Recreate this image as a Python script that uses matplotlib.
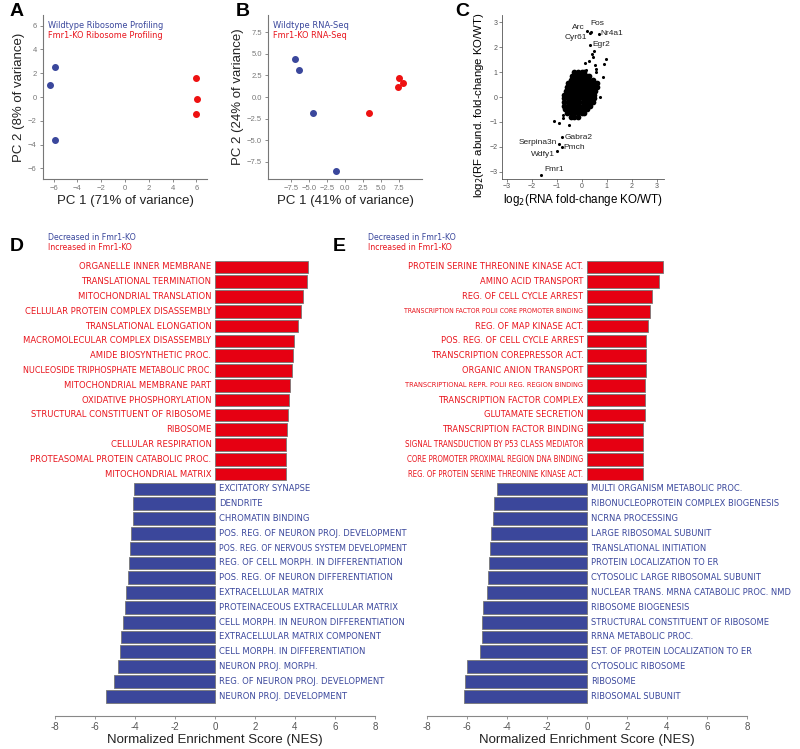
import os
import matplotlib
matplotlib.use("Agg")
import matplotlib.pyplot as plt
from matplotlib import font_manager

plt.rcParams["font.family"] = ["Liberation Sans", "DejaVu Sans"]

# a narrow face for the long term labels, if one is installed
narrow = font_manager.FontProperties(family="Roboto")
found = False
for pref in ["liberationsansnarrow-regular", "dejavusanscondensed.ttf", "robotocondensed-regular",
             "opensans_condensed-regular", "opensanscondensed-regular", "notosans-condensed.ttf"]:
    for f in font_manager.fontManager.ttflist:
        if os.path.basename(f.fname).lower().startswith(pref):
            narrow = font_manager.FontProperties(fname=f.fname)
            found = True
            break
    if found:
        break

RED = "#e8141c"
BLUE = "#3a479c"
BAR_RED = "#e60012"
BAR_BLUE = "#3b479b"

# panel A: PCA of ribosome profiling
a_wt_x = [-6.3, -5.9, -5.9]
a_wt_y = [1.0, 2.5, -3.6]
a_ko_x = [6.0, 6.1, 6.0]
a_ko_y = [1.6, -0.2, -1.4]

# panel B: PCA of RNA-Seq
b_wt_x = [-7.0, -6.4, -4.4, -1.2]
b_wt_y = [4.4, 3.1, -1.9, -8.6]
b_ko_x = [3.3, 7.5, 7.4, 8.0]
b_ko_y = [-1.9, 2.2, 1.2, 1.6]

# panel C: RF vs RNA fold change, the dense bulk of genes read as a cloud
cloud_x = [-0.3, -0.15, 0.0, 0.1,
           -0.4, -0.25, -0.1, 0.05, 0.2, 0.3,
           -0.45, -0.3, -0.15, 0.0, 0.15, 0.3, 0.45,
           -0.55, -0.4, -0.25, -0.1, 0.05, 0.2, 0.35, 0.5, 0.6,
           -0.6, -0.45, -0.3, -0.15, 0.0, 0.15, 0.3, 0.45, 0.6,
           -0.65, -0.5, -0.35, -0.2, -0.05, 0.1, 0.25, 0.4, 0.55,
           -0.7, -0.55, -0.4, -0.25, -0.1, 0.05, 0.2, 0.35, 0.5,
           -0.7, -0.55, -0.4, -0.25, -0.1, 0.05, 0.2, 0.35, 0.5,
           -0.72, -0.57, -0.42, -0.27, -0.12, 0.03, 0.18, 0.33, 0.45,
           -0.7, -0.55, -0.4, -0.25, -0.1, 0.05, 0.2, 0.35,
           -0.68, -0.53, -0.38, -0.23, -0.08, 0.07, 0.22,
           -0.6, -0.45, -0.3, -0.15, 0.0, 0.1,
           -0.45, -0.3, -0.15]
cloud_y = [1.0, 1.0, 1.0, 1.0,
           0.85, 0.85, 0.85, 0.85, 0.85, 0.85,
           0.7, 0.7, 0.7, 0.7, 0.7, 0.7, 0.7,
           0.55, 0.55, 0.55, 0.55, 0.55, 0.55, 0.55, 0.55, 0.55,
           0.4, 0.4, 0.4, 0.4, 0.4, 0.4, 0.4, 0.4, 0.4,
           0.25, 0.25, 0.25, 0.25, 0.25, 0.25, 0.25, 0.25, 0.25,
           0.1, 0.1, 0.1, 0.1, 0.1, 0.1, 0.1, 0.1, 0.1,
           -0.05, -0.05, -0.05, -0.05, -0.05, -0.05, -0.05, -0.05, -0.05,
           -0.2, -0.2, -0.2, -0.2, -0.2, -0.2, -0.2, -0.2, -0.2,
           -0.35, -0.35, -0.35, -0.35, -0.35, -0.35, -0.35, -0.35,
           -0.5, -0.5, -0.5, -0.5, -0.5, -0.5, -0.5,
           -0.65, -0.65, -0.65, -0.65, -0.65, -0.65,
           -0.8, -0.8, -0.8]
out_x = [0.96, 0.88, 0.85, 0.72, 0.12, 0.28, 0.41, 0.49, 0.45, 0.16, 0.52, 0.56, 0.59,
         -1.11, -0.91, -0.51, -0.77, -0.75]
out_y = [1.51, 1.33, 0.8, 0.0, 1.36, 1.43, 1.73, 1.87, 1.6, 1.07, 1.27, 1.13, 1.0,
         -0.96, -1.04, -1.13, -0.83, -0.73]
genes = ["Arc", "Fos", "Cyr61", "Nr4a1", "Egr2", "Gabra2", "Serpina3n", "Pmch", "Wdfy1", "Fmr1"]
gene_x = [0.23, 0.39, 0.33, 0.68, 0.35, -0.79, -0.91, -0.81, -0.99, -1.65]
gene_y = [2.64, 2.63, 2.57, 2.55, 2.1, -1.62, -1.9, -2.01, -2.16, -3.13]

# panel D: GSEA ribosome profiling
d_terms = ["ORGANELLE INNER MEMBRANE", "TRANSLATIONAL TERMINATION", "MITOCHONDRIAL TRANSLATION",
           "CELLULAR PROTEIN COMPLEX DISASSEMBLY", "TRANSLATIONAL ELONGATION",
           "MACROMOLECULAR COMPLEX DISASSEMBLY", "AMIDE BIOSYNTHETIC PROC.",
           "NUCLEOSIDE TRIPHOSPHATE METABOLIC PROC.", "MITOCHONDRIAL MEMBRANE PART",
           "OXIDATIVE PHOSPHORYLATION", "STRUCTURAL CONSTITUENT OF RIBOSOME", "RIBOSOME",
           "CELLULAR RESPIRATION", "PROTEASOMAL PROTEIN CATABOLIC PROC.", "MITOCHONDRIAL MATRIX",
           "EXCITATORY SYNAPSE", "DENDRITE", "CHROMATIN BINDING",
           "POS. REG. OF NEURON PROJ. DEVELOPMENT", "POS. REG. OF NERVOUS SYSTEM DEVELOPMENT",
           "REG. OF CELL MORPH. IN DIFFERENTIATION", "POS. REG. OF NEURON DIFFERENTIATION",
           "EXTRACELLULAR MATRIX", "PROTEINACEOUS EXTRACELLULAR MATRIX",
           "CELL MORPH. IN NEURON DIFFERENTIATION", "EXTRACELLULAR MATRIX COMPONENT",
           "CELL MORPH. IN DIFFERENTIATION", "NEURON PROJ. MORPH.",
           "REG. OF NEURON PROJ. DEVELOPMENT", "NEURON PROJ. DEVELOPMENT"]
d_nes = [4.65, 4.6, 4.4, 4.3, 4.15, 3.95, 3.9, 3.85, 3.75, 3.7, 3.65, 3.6, 3.55, 3.55, 3.55,
         -4.05, -4.1, -4.1, -4.2, -4.25, -4.3, -4.35, -4.45, -4.5, -4.6, -4.7, -4.75, -4.85,
         -5.05, -5.45]

# panel E: GSEA RNA-Seq
e_terms = ["PROTEIN SERINE THREONINE KINASE ACT.", "AMINO ACID TRANSPORT",
           "REG. OF CELL CYCLE ARREST", "TRANSCRIPTION FACTOR POLII CORE PROMOTER BINDING",
           "REG. OF MAP KINASE ACT.", "POS. REG. OF CELL CYCLE ARREST",
           "TRANSCRIPTION COREPRESSOR ACT.", "ORGANIC ANION TRANSPORT",
           "TRANSCRIPTIONAL REPR. POLII REG. REGION BINDING", "TRANSCRIPTION FACTOR COMPLEX",
           "GLUTAMATE SECRETION", "TRANSCRIPTION FACTOR BINDING",
           "SIGNAL TRANSDUCTION BY P53 CLASS MEDIATOR", "CORE PROMOTER PROXIMAL REGION DNA BINDING",
           "REG. OF PROTEIN SERINE THREONINE KINASE ACT.",
           "MULTI ORGANISM METABOLIC PROC.", "RIBONUCLEOPROTEIN COMPLEX BIOGENESIS",
           "NCRNA PROCESSING", "LARGE RIBOSOMAL SUBUNIT", "TRANSLATIONAL INITIATION",
           "PROTEIN LOCALIZATION TO ER", "CYTOSOLIC LARGE RIBOSOMAL SUBUNIT",
           "NUCLEAR TRANS. MRNA CATABOLIC PROC. NMD", "RIBOSOME BIOGENESIS",
           "STRUCTURAL CONSTITUENT OF RIBOSOME", "RRNA METABOLIC PROC.",
           "EST. OF PROTEIN LOCALIZATION TO ER", "CYTOSOLIC RIBOSOME", "RIBOSOME",
           "RIBOSOMAL SUBUNIT"]
e_nes = [3.8, 3.6, 3.25, 3.15, 3.05, 2.95, 2.95, 2.95, 2.9, 2.9, 2.9, 2.8, 2.8, 2.8, 2.8,
         -4.5, -4.65, -4.7, -4.8, -4.85, -4.9, -4.95, -5.0, -5.2, -5.25, -5.25, -5.35,
         -6.0, -6.1, -6.15]

fig = plt.figure(figsize=(8, 7.49), dpi=100)
renderer = fig.canvas.get_renderer()


def rect(x0, y0, x1, y1):
    return [x0 / 800, 1 - y1 / 749, (x1 - x0) / 800, (y1 - y0) / 749]


def fit_size(s, width, prop=None):
    # font size that makes s about `width` pixels wide
    t = fig.text(0, 0, s, fontsize=10, fontproperties=prop)
    w = t.get_window_extent(renderer).width
    t.remove()
    return 10 * width / w


def put(x, y, s, color, width, prop=None):
    fig.text(x / 800, 1 - y / 749, s, color=color, va="center", fontproperties=prop,
             fontsize=fit_size(s, width, prop))


def pca_style(ax):
    for s in ["top", "right"]:
        ax.spines[s].set_visible(False)
    for s in ["left", "bottom"]:
        ax.spines[s].set_color("#777777")
        ax.spines[s].set_linewidth(0.8)
    ax.tick_params(colors="#777777", labelcolor="#777777", labelsize=5.5, length=2.5,
                   width=0.6, pad=2)


# A
ax = fig.add_axes(rect(43, 15, 207, 179))
ax.scatter(a_wt_x, a_wt_y, s=16, color=BLUE, zorder=3)
ax.scatter(a_ko_x, a_ko_y, s=16, color="#ee1111", zorder=3)
ax.set_xlim(-6.9, 6.9)
ax.set_ylim(-6.9, 6.9)
ax.set_xticks(range(-6, 7, 2))
ax.set_yticks(range(-6, 7, 2))
pca_style(ax)
ax.set_xlabel("PC 1 (71% of variance)", fontsize=9.5, color="#222222", labelpad=2)
ax.set_ylabel("PC 2 (8% of variance)", fontsize=9.5, color="#222222", labelpad=2)
put(48, 25, "Wildtype Ribosome Profiling", BLUE, 116, narrow)
put(48, 35.5, "Fmr1-KO Ribosome Profiling", RED, 114, narrow)

# B
ax = fig.add_axes(rect(268, 15, 422, 179))
ax.scatter(b_wt_x, b_wt_y, s=16, color=BLUE, zorder=3)
ax.scatter(b_ko_x, b_ko_y, s=16, color="#ee1111", zorder=3)
ax.set_xlim(-10.7, 10.7)
ax.set_ylim(-9.5, 9.5)
ticks = [-7.5, -5.0, -2.5, 0.0, 2.5, 5.0, 7.5]
ax.set_xticks(ticks)
ax.set_yticks(ticks)
pca_style(ax)
ax.set_xlabel("PC 1 (41% of variance)", fontsize=9.5, color="#222222", labelpad=2)
ax.set_ylabel("PC 2 (24% of variance)", fontsize=9.5, color="#222222", labelpad=2)
put(273, 25, "Wildtype RNA-Seq", BLUE, 76, narrow)
put(273, 35.5, "Fmr1-KO RNA-Seq", RED, 74, narrow)

# C
ax = fig.add_axes(rect(502, 15, 664, 179))
ax.scatter(cloud_x, cloud_y, s=17, color="black", linewidths=0)
ax.scatter(out_x, out_y, s=5, color="black", linewidths=0)
ax.scatter(gene_x, gene_y, s=5, color="black", linewidths=0)
offsets = {"Arc": (-2, 3, "right"), "Fos": (-1, 6, "left"), "Cyr61": (-2, -3, "right"),
           "Nr4a1": (1.5, 0, "left"), "Egr2": (1.5, 0.5, "left"), "Gabra2": (2, 0, "left"),
           "Serpina3n": (-1.5, 1.5, "right"), "Pmch": (1.5, -0.5, "left"),
           "Wdfy1": (-1.5, -2.5, "right"), "Fmr1": (3, 4, "left")}
for g, gx, gy in zip(genes, gene_x, gene_y):
    dx, dy, ha = offsets[g]
    ax.annotate(g, (gx, gy), xytext=(dx, dy), textcoords="offset points", ha=ha, va="center",
                fontsize=6, color="#222222")
ax.set_xlim(-3.2, 3.3)
ax.set_ylim(-3.3, 3.3)
ax.set_xticks(range(-3, 4))
ax.set_yticks(range(-3, 4))
for s in ["top", "right"]:
    ax.spines[s].set_visible(False)
for s in ["left", "bottom"]:
    ax.spines[s].set_linewidth(0.6)
    ax.spines[s].set_color("#555555")
ax.tick_params(labelsize=5, length=2, width=0.5, colors="#555555", pad=1)
ax.set_xlabel("log$_2$(RNA fold-change KO/WT)", fontsize=8.4, labelpad=1)
ax.set_ylabel("log$_2$(RF abund. fold-change KO/WT)", fontsize=8.2, labelpad=1)
ax.yaxis.set_label_coords(-0.1, 0.45)


# D and E
def gsea(box, terms, nes, ref_label, ref_width, max_red, max_blue):
    ax = fig.add_axes(rect(*box))
    base = fit_size(ref_label, ref_width, narrow)
    rows = list(range(len(terms)))
    cols = [BAR_RED if v > 0 else BAR_BLUE for v in nes]
    ax.barh(rows, nes, height=0.86, color=cols, edgecolor="#777777", linewidth=0.6)
    for r, t, v in zip(rows, terms, nes):
        limit = max_red if v > 0 else max_blue
        size = min(base, fit_size(t, limit, narrow))
        if v > 0:
            ax.text(-0.18, r, t, ha="right", va="center", color=RED, fontsize=size,
                    fontproperties=narrow)
        else:
            ax.text(0.2, r, t, ha="left", va="center", color=BLUE, fontsize=size,
                    fontproperties=narrow)
    ax.set_ylim(30.34, -0.6)
    ax.set_xlim(-8, 8)
    ax.set_xticks(range(-8, 9, 2))
    ax.set_xticklabels([str(v) for v in range(-8, 9, 2)])
    ax.set_yticks([])
    for s in ["top", "right", "left"]:
        ax.spines[s].set_visible(False)
    ax.spines["bottom"].set_color("#888888")
    ax.spines["bottom"].set_linewidth(0.8)
    ax.tick_params(axis="x", colors="#888888", labelcolor="#555555", labelsize=7, length=2.5,
                   width=0.6, pad=1.5)
    ax.set_xlabel("Normalized Enrichment Score (NES)", fontsize=9.5, color="#222222", labelpad=2)
    return ax


axd = gsea((55, 258, 375, 716), d_terms, d_nes, "ORGANELLE INNER MEMBRANE", 132, 190, 190)
axe = gsea((427, 258, 747, 716), e_terms, e_nes, "PROTEIN SERINE THREONINE KINASE ACT.", 175,
           178, 203)

put(48, 237, "Decreased in Fmr1-KO", BLUE, 89, narrow)
put(48, 248, "Increased in Fmr1-KO", RED, 84, narrow)
put(368, 237, "Decreased in Fmr1-KO", BLUE, 89, narrow)
put(368, 248, "Increased in Fmr1-KO", RED, 84, narrow)

for lab, x, y in [("A", 10, 12), ("B", 236, 12), ("C", 455, 12), ("D", 10, 247), ("E", 333, 247)]:
    fig.text(x / 800, 1 - y / 749, lab, fontsize=14, fontweight="bold", va="center")

fig.savefig("out.png", dpi=100)
